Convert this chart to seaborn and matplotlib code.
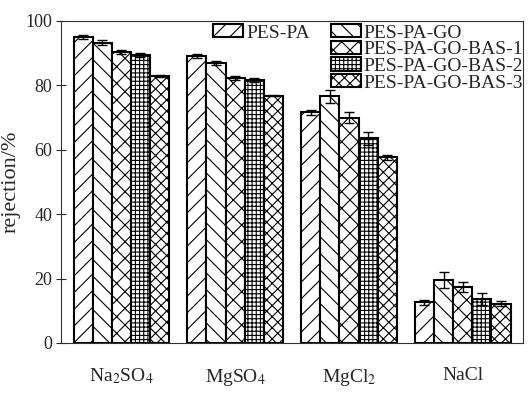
import matplotlib
matplotlib.use("Agg")
import matplotlib.pyplot as plt
import seaborn as sns
import pandas as pd
import numpy as np
from matplotlib.patches import Patch

salts = ["Na$_2$SO$_4$", "MgSO$_4$", "MgCl$_2$", "NaCl"]
membranes = ["PES-PA", "PES-PA-GO", "PES-PA-GO-BAS-1", "PES-PA-GO-BAS-2", "PES-PA-GO-BAS-3"]

pes_pa = [95.0, 89.2, 71.6, 12.6]
pes_pa_go = [93.3, 86.9, 76.6, 19.5]
bas1 = [90.3, 82.4, 70.0, 17.4]
bas2 = [89.5, 81.6, 63.5, 13.6]
bas3 = [83.0, 76.8, 57.6, 12.2]

err_pes_pa = [0.6, 0.6, 0.8, 0.8]
err_pes_pa_go = [0.8, 0.6, 2.0, 2.5]
err_bas1 = [0.6, 0.6, 1.8, 1.5]
err_bas2 = [0.7, 0.6, 2.0, 1.8]
err_bas3 = [0.3, 0.1, 0.8, 0.7]

values = [pes_pa, pes_pa_go, bas1, bas2, bas3]
errors = [err_pes_pa, err_pes_pa_go, err_bas1, err_bas2, err_bas3]
hatches = ["//", "\\\\", "xx", "++++", "xxx"]

rows = []
for m, vals in zip(membranes, values):
    for s, v in zip(salts, vals):
        rows.append({"salt": s, "membrane": m, "rejection": v})
df = pd.DataFrame(rows)

sns.set_style("ticks")
plt.rcParams["font.family"] = ["Liberation Serif", "DejaVu Serif"]
plt.rcParams["mathtext.fontset"] = "stix"
plt.rcParams["hatch.linewidth"] = 0.8

fig, ax = plt.subplots(figsize=(5.31, 4.03), dpi=100)
fig.subplots_adjust(left=0.115, right=0.985, top=0.948, bottom=0.149)

sns.barplot(data=df, x="salt", y="rejection", hue="membrane", order=salts,
            hue_order=membranes, palette=["white"] * 5, errorbar=None,
            width=0.84, edgecolor="black", linewidth=1.5, ax=ax, legend=False)

for cont, h, errs in zip(ax.containers, hatches, errors):
    xs, ys = [], []
    for bar in cont:
        bar.set_hatch(h)
        bar.set_edgecolor("black")
        xs.append(bar.get_x() + bar.get_width() / 2)
        ys.append(bar.get_height())
    ax.errorbar(xs, ys, yerr=errs, fmt="none", ecolor="black",
                elinewidth=1.0, capsize=3.5, capthick=1.0, zorder=5)

ax.set_ylim(0, 100)
ax.set_xlim(-0.53, 3.53)
ax.set_yticks([0, 20, 40, 60, 80, 100])
ax.set_xlabel("")
ax.set_ylabel("rejection/%", fontsize=16, labelpad=3)
ax.tick_params(axis="y", direction="inout", length=7, width=0.8, labelsize=13, pad=3)
ax.tick_params(axis="x", length=0, labelsize=14, pad=17)
for sp in ax.spines.values():
    sp.set_visible(True)
    sp.set_linewidth(0.8)
    sp.set_color("#333333")

blank = Patch(visible=False)
hs = [Patch(facecolor="white", edgecolor="black", hatch=h, linewidth=1.5) for h in hatches]
handles = [hs[0], blank, blank, blank, hs[1], hs[2], hs[3], hs[4]]
labels = [membranes[0], "", "", "", membranes[1], membranes[2], membranes[3], membranes[4]]
ax.legend(handles, labels, ncol=2, loc="upper left", bbox_to_anchor=(0.329, 0.99),
          frameon=False, fontsize=14, handlelength=1.55, handleheight=0.67,
          handletextpad=0.15, columnspacing=1.08, labelspacing=-0.04, borderpad=0.0,
          borderaxespad=0.0)

fig.savefig("out.png", dpi=100)
